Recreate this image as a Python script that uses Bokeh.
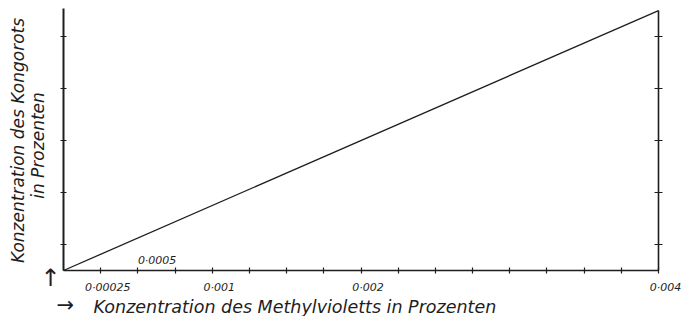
import numpy as np
from bokeh.plotting import figure
from bokeh.models import (LinearAxis, FixedTicker, Range1d, Label,
                          CustomJSTickFormatter)
from bokeh.embed import file_html
from bokeh.resources import INLINE

# ---- data ----
# concentration of methyl violet (%) on x, concentration of Congo red (relative units) on y
methyl_violet = [0.0, 0.004]
congo_red = [0.0, 5.0]

x_ticks = [0.00025, 0.0005, 0.00075, 0.001, 0.00125, 0.0015, 0.00175, 0.002,
           0.00225, 0.0025, 0.00275, 0.003, 0.00325, 0.0035, 0.00375, 0.004]
y_ticks = [0.5, 1.5, 2.5, 3.5, 4.5]
y_axis_top = 5.04

below_vals = [0.00025, 0.001, 0.002, 0.004]
below_text = ["0·00025", "0·001", "0·002", "0·004"]
above_vals = [0.0005]
above_text = ["0·0005"]

x_title = "Konzentration des Methylvioletts in Prozenten"
y_title_1 = "Konzentration des Kongorots"
y_title_2 = "in Prozenten"

INK = "#1e1e1e"
FONT = "DejaVu Sans"

# ---- layout (pixels) ----
W, H = 687, 316
ORIGIN_X, ORIGIN_Y = 63, 270      # page position of data origin
X_END_PX = 658                    # page x of 0.004
Y_TOP_PX = 8                      # page y of the top of the left axis

sx = (methyl_violet[-1] - 0) / (X_END_PX - ORIGIN_X)   # data per px
sy = y_axis_top / (ORIGIN_Y - Y_TOP_PX)
x_range = Range1d(-ORIGIN_X * sx, (W - ORIGIN_X) * sx)
y_range = Range1d(-(H - ORIGIN_Y) * sy, ORIGIN_Y * sy)

p = figure(width=W, height=H, output_backend="svg", toolbar_location=None,
           x_range=x_range, y_range=y_range,
           min_border_left=0, min_border_right=0, min_border_top=0,
           min_border_bottom=0)
p.outline_line_color = None
p.grid.visible = False
p.background_fill_color = "white"
p.border_fill_color = "white"

p.line(methyl_violet, congo_red, line_color=INK, line_width=1.3)

blank = CustomJSTickFormatter(code="return ''")


def style_axis(ax, width, tin, tout):
    ax.formatter = blank
    ax.axis_line_width = width
    ax.axis_line_color = INK
    ax.major_tick_line_color = INK
    ax.major_tick_line_width = 1.2
    ax.major_tick_in = tin
    ax.major_tick_out = tout
    ax.minor_tick_line_color = None


ya = p.yaxis[0]
ya.ticker = FixedTicker(ticks=y_ticks)
ya.fixed_location = 0
ya.bounds = (0, y_axis_top)
style_axis(ya, 2, 3, 3)

ra = LinearAxis(ticker=FixedTicker(ticks=y_ticks), bounds=(0, congo_red[-1]),
                fixed_location=methyl_violet[-1])
style_axis(ra, 1.6, 4, 4)
p.add_layout(ra, "right")

xa = p.xaxis[0]
xa.ticker = FixedTicker(ticks=x_ticks)
xa.fixed_location = 0
xa.bounds = (0, methyl_violet[-1])
style_axis(xa, 1.5, 3, 3)

# tick labels (x in data units, y in frame pixels from bottom)
for v, t in zip(below_vals, below_text):
    p.add_layout(Label(x=v, y=H - 287, x_units="data", y_units="screen", text=t,
                       x_offset=7, text_align="center", text_baseline="alphabetic",
                       text_font=FONT, text_font_style="italic",
                       text_font_size="11px", text_color=INK))
for v, t in zip(above_vals, above_text):
    p.add_layout(Label(x=v, y=H - 260, x_units="data", y_units="screen", text=t,
                       text_align="left", text_baseline="alphabetic",
                       text_font=FONT, text_font_style="italic",
                       text_font_size="11px", text_color=INK))

# titles (screen pixels; frame fills the canvas)
common = dict(x_units="screen", y_units="screen", text_font=FONT,
              text_font_style="italic", text_color=INK)
p.add_layout(Label(x=56, y=H - 304, text="\u2192", text_font_size="21px",
                   text_baseline="alphabetic", **common))
p.add_layout(Label(x=93, y=H - 306, text=x_title, text_font_size="17.5px",
                   text_baseline="alphabetic", **common))
p.add_layout(Label(x=17, y=H - 140, text=y_title_1, text_font_size="17px",
                   angle=np.pi / 2, text_align="center", text_baseline="middle", **common))
p.add_layout(Label(x=37, y=H - 145, text=y_title_2, text_font_size="17px",
                   angle=np.pi / 2, text_align="center", text_baseline="middle", **common))
p.add_layout(Label(x=50, y=H - 277, text="\u2191", text_font_size="24px",
                   text_align="center", text_baseline="alphabetic", **common))

open("out.html", "w").write(file_html(p, INLINE))
